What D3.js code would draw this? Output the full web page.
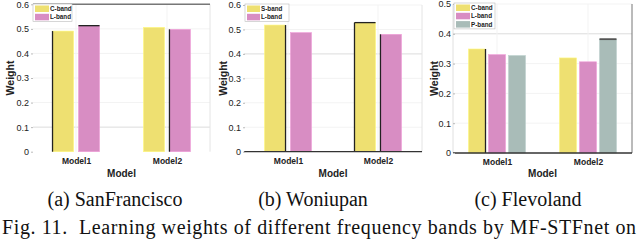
<!DOCTYPE html>
<html>
<head>
<meta charset="utf-8">
<script src="https://cdn.jsdelivr.net/npm/d3@7"></script>
<style>
  body { margin: 0; background: #fff; }
  svg { display: block; }
  .sans { font-family: "Liberation Sans", Arimo, Arial, Helvetica, sans-serif; }
  .serif { font-family: "Liberation Serif", Tinos, "Times New Roman", Times, serif; }
</style>
</head>
<body>
<svg id="chart" width="640" height="242"></svg>
<script>
// chart data
var models = ["Model1", "Model2"];

var sfBands = ["C-band", "L-band"];
var sfC = [0.491, 0.506];
var sfL = [0.513, 0.498];

var woBands = ["S-band", "L-band"];
var woS = [0.518, 0.528];
var woL = [0.487, 0.480];

var flBands = ["C-band", "L-band", "P-band"];
var flC = [0.349, 0.319];
var flL = [0.330, 0.306];
var flP = [0.327, 0.382];

var ticksA = [0, 0.1, 0.2, 0.3, 0.4, 0.5, 0.6];
var ticksB = [0, 0.1, 0.2, 0.3, 0.4, 0.5, 0.6];
var ticksC = [0, 0.1, 0.2, 0.3, 0.4, 0.5];

var captions = ["(a) SanFrancisco", "(b) Woniupan", "(c) Flevoland"];
var figText = "Fig. 11.  Learning weights of different frequency bands by MF-STFnet on";

var YELLOW = "#eee071", PINK = "#d88dc3", SAGE = "#a9bcb8";

var panels = [
  { x0: 33, x1: 210, yTop: 4.3, yBot: 151.7, max: 0.6, ticks: ticksA,
    bands: sfBands, series: [sfC, sfL], colors: [YELLOW, PINK],
    outer: 0.473, inner: 0.19, groupW: 47, labelX: 29, weightX: 10,
    caption: 115, frame: { top: true, bottom: false, right: "#e4e4e4" },
    grid: 0.1, legend: { x: 33, y: 4, w: 39, sw: 14 },
    edges: [[0, 0, "left"], [1, 0, "top"], [1, 1, "left"]] },
  { x0: 244, x1: 422, yTop: 5, yBot: 151.7, max: 0.6, ticks: ticksB,
    bands: woBands, series: [woS, woL], colors: [YELLOW, PINK],
    outer: 0.489, inner: 0.19, groupW: 47, labelX: 241, weightX: 223,
    caption: 313, frame: { top: false, bottom: true, right: "#e4e4e4" },
    grid: 0.4, legend: { x: 245, y: 4, w: 44, sw: 13 },
    edges: [[0, 0, "right"], [0, 1, "top"], [0, 1, "left"], [1, 1, "left"]] },
  { x0: 453, x1: 632, yTop: 4, yBot: 153, max: 0.5, ticks: ticksC,
    bands: flBands, series: [flC, flL, flP], colors: [YELLOW, PINK, SAGE],
    outer: 0.4835, inner: 0.15, groupW: 57, labelX: 451, weightX: 434,
    caption: 528, frame: { top: false, bottom: true, right: "#777" },
    grid: 0.4, legend: { x: 454, y: 3, w: 41, sw: 14 },
    edges: [[0, 0, "right"], [2, 1, "top"]] }
];

var svg = d3.select("#chart");

panels.forEach(function(p, pi) {
  var g = svg.append("g");
  var y = d3.scaleLinear().domain([0, p.max]).range([p.yBot, p.yTop]);
  var x = d3.scalePoint().domain(models).range([p.x0, p.x1]).padding(p.outer);
  var xs = d3.scaleBand().domain(p.bands)
      .range([-p.groupW / 2, p.groupW / 2]).paddingInner(p.inner);

  // faint grid
  g.selectAll(".hgrid").data(p.ticks.slice(1)).enter().append("line")
      .attr("x1", p.x0).attr("x2", p.x1)
      .attr("y1", function(d) { return y(d); }).attr("y2", function(d) { return y(d); })
      .style("stroke", function(d) { return Math.abs(d - p.grid) < 1e-9 ? "#dcdcdc" : "#f3f3f3"; })
      .style("stroke-width", 1);
  g.selectAll(".vgrid").data(models).enter().append("line")
      .attr("x1", function(d) { return x(d); }).attr("x2", function(d) { return x(d); })
      .attr("y1", p.yTop).attr("y2", p.yBot)
      .style("stroke", "#f3f3f3");

  // frame
  g.append("line").attr("x1", p.x1).attr("x2", p.x1).attr("y1", p.yTop).attr("y2", p.yBot)
      .style("stroke", p.frame.right).style("stroke-width", 1);
  if (pi == 2) {
    g.append("line").attr("x1", p.x0).attr("x2", p.x0).attr("y1", p.yTop).attr("y2", p.yBot)
        .style("stroke", "#e0e0e0");
  }
  if (p.frame.top) {
    g.append("line").attr("x1", p.x0).attr("x2", p.x1).attr("y1", p.yTop).attr("y2", p.yTop)
        .style("stroke", "#777").style("stroke-width", 1.5);
  }

  // bars
  p.series.forEach(function(vals, si) {
    g.selectAll(".bar" + si).data(vals).enter().append("rect")
        .attr("x", function(d, i) { return x(models[i]) + xs(p.bands[si]); })
        .attr("y", function(d) { return y(d); })
        .attr("width", xs.bandwidth())
        .attr("height", function(d) { return p.yBot - y(d); })
        .style("fill", p.colors[si])
        .style("stroke", d3.color(p.colors[si]).brighter(0.3))
        .style("stroke-width", 0.6);
  });

  // dark accent edges on some bars
  p.edges.forEach(function(e) {
    var v = p.series[e[0]][e[1]];
    var bx = x(models[e[1]]) + xs(p.bands[e[0]]);
    var line = g.append("line").style("stroke", "#222").style("stroke-width", 1.3);
    if (e[2] == "top") {
      line.attr("x1", bx).attr("x2", bx + xs.bandwidth()).attr("y1", y(v)).attr("y2", y(v));
      if (pi == 2) line.style("stroke", "#555").style("stroke-width", 1.8);
    } else {
      var lx = e[2] == "left" ? bx : bx + xs.bandwidth();
      line.attr("x1", lx).attr("x2", lx).attr("y1", y(v)).attr("y2", p.yBot);
    }
  });

  if (p.frame.bottom) {
    g.append("line").attr("x1", p.x0).attr("x2", p.x1).attr("y1", p.yBot).attr("y2", p.yBot)
        .style("stroke", "#333").style("stroke-width", 1.3);
  }

  // y axis
  var yAxis = d3.axisLeft(y).tickValues(p.ticks).tickSize(2).tickPadding(2)
      .tickFormat(function(d) { return d === 0 ? "0" : d.toFixed(1); });
  var ya = g.append("g").attr("transform", "translate(" + (p.labelX + 4) + ",0)").call(yAxis)
      .attr("font-family", null).attr("class", "sans");
  ya.select(".domain").remove();
  ya.selectAll(".tick line").style("stroke", "#bbb");
  ya.selectAll(".tick text").attr("font-size", "9px").style("fill", "#222");

  // x axis labels
  var xa = g.append("g").attr("transform", "translate(0," + p.yBot + ")")
      .call(d3.axisBottom(x).tickSize(0).tickPadding(6))
      .attr("font-family", null).attr("class", "sans");
  xa.select(".domain").remove();
  xa.selectAll(".tick text").attr("font-size", "8.5px").attr("font-weight", "bold")
      .style("fill", "#222");

  g.append("text").attr("class", "sans").attr("x", (p.x0 + p.x1) / 2).attr("y", 177)
      .attr("text-anchor", "middle")
      .attr("font-size", "10px").attr("font-weight", "bold")
      .style("fill", "#222").text("Model");

  g.append("text").attr("class", "sans")
      .attr("transform", "translate(" + p.weightX + "," + ((p.yTop + p.yBot) / 2) + ") rotate(-90)")
      .attr("text-anchor", "middle").attr("dy", "0.35em")
      .attr("font-size", "10.5px").attr("font-weight", "bold")
      .style("fill", "#222").text("Weight");

  // legend
  var L = p.legend;
  var lg = g.append("g");
  var rowH = 8.3;
  lg.append("rect").attr("x", L.x).attr("y", L.y).attr("width", L.w)
      .attr("height", p.bands.length * rowH + 1)
      .style("fill", "#fff").style("stroke", "#bbb").style("stroke-width", 0.6);
  p.bands.forEach(function(b, i) {
    lg.append("rect").attr("x", L.x + 2).attr("y", L.y + 1.5 + i * rowH)
        .attr("width", L.sw).attr("height", 6.5).style("fill", p.colors[i]);
    lg.append("text").attr("class", "sans").attr("x", L.x + L.sw + 3).attr("y", L.y + 7 + i * rowH)
        .attr("font-size", "6.3px").attr("font-weight", "bold")
        .style("fill", "#222").text(b);
  });

  // caption
  svg.append("text").attr("class", "serif").attr("x", p.caption).attr("y", 206)
      .attr("text-anchor", "middle")
      .attr("font-size", "20px").style("fill", "#111").text(captions[pi]);
});

svg.append("text").attr("class", "serif").attr("x", 2).attr("y", 234)
    .attr("textLength", 634).attr("lengthAdjust", "spacing")
    .attr("font-size", "20px").style("fill", "#111")
    .attr("xml:space", "preserve").style("white-space", "pre").text(figText);
</script>
</body>
</html>
